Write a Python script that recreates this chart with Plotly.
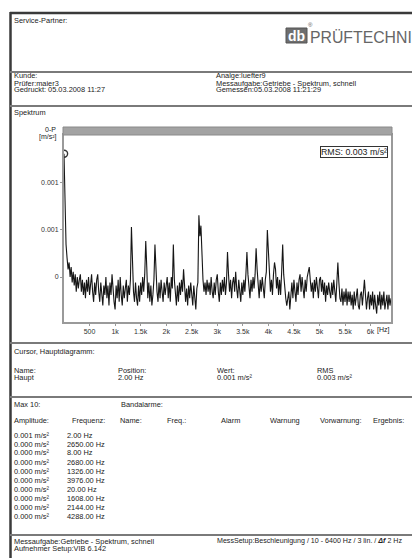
import plotly.graph_objects as go

W, H = 412, 558

# ---------------- data ----------------
freq_start_hz = 0
freq_step_hz = 20
# spectrum amplitude (0-P) in mm/s^2, one value per 20 Hz line, 0 ... 6400 Hz
amp_mms2 = [
    1.40, 0.62, 0.45, 0.38, 0.33, 0.36, 0.30, 0.34, 0.28, 0.32, 0.27, 0.31, 0.25, 0.30, 0.26, 0.29, 0.31, 0.25, 0.29, 0.24,
    0.28, 0.23, 0.29, 0.25, 0.30, 0.24, 0.28, 0.31, 0.25, 0.22, 0.28, 0.24, 0.29, 0.31, 0.25, 0.22, 0.28, 0.24, 0.21, 0.27,
    0.24, 0.30, 0.23, 0.27, 0.21, 0.28, 0.24, 0.31, 0.25, 0.22, 0.20, 0.27, 0.23, 0.29, 0.22, 0.30, 0.24, 0.21, 0.27, 0.23,
    0.26, 0.29, 0.22, 0.27, 0.24, 0.29, 0.56, 0.36, 0.25, 0.22, 0.28, 0.23, 0.21, 0.27, 0.22, 0.28, 0.24, 0.30, 0.25, 0.31,
    0.47, 0.34, 0.23, 0.28, 0.22, 0.27, 0.21, 0.24, 0.29, 0.45, 0.31, 0.25, 0.22, 0.28, 0.23, 0.29, 0.25, 0.22, 0.28, 0.24,
    0.27, 0.30, 0.23, 0.28, 0.22, 0.30, 0.26, 0.45, 0.29, 0.23, 0.21, 0.27, 0.22, 0.28, 0.24, 0.29, 0.25, 0.33, 0.28, 0.22,
    0.26, 0.21, 0.27, 0.23, 0.28, 0.24, 0.21, 0.27, 0.23, 0.20, 0.26, 0.28, 0.65, 0.50, 0.57, 0.34, 0.29, 0.25, 0.28, 0.24,
    0.29, 0.25, 0.28, 0.24, 0.30, 0.25, 0.23, 0.28, 0.24, 0.29, 0.31, 0.25, 0.22, 0.28, 0.24, 0.29, 0.25, 0.30, 0.24, 0.28,
    0.41, 0.31, 0.25, 0.29, 0.23, 0.28, 0.30, 0.25, 0.32, 0.26, 0.23, 0.29, 0.25, 0.22, 0.28, 0.24, 0.29, 0.25, 0.31, 0.41,
    0.31, 0.26, 0.23, 0.29, 0.25, 0.30, 0.26, 0.31, 0.43, 0.33, 0.26, 0.23, 0.29, 0.25, 0.30, 0.26, 0.23, 0.29, 0.32, 0.54,
    0.40, 0.30, 0.25, 0.29, 0.24, 0.31, 0.36, 0.33, 0.26, 0.30, 0.24, 0.29, 0.24, 0.32, 0.45, 0.31, 0.25, 0.23, 0.21, 0.24,
    0.25, 0.20, 0.26, 0.28, 0.23, 0.29, 0.25, 0.22, 0.28, 0.24, 0.29, 0.31, 0.25, 0.30, 0.26, 0.23, 0.29, 0.25, 0.30, 0.32,
    0.34, 0.29, 0.25, 0.28, 0.23, 0.29, 0.25, 0.30, 0.26, 0.23, 0.29, 0.30, 0.25, 0.29, 0.24, 0.28, 0.22, 0.27, 0.24, 0.28,
    0.25, 0.23, 0.28, 0.24, 0.29, 0.25, 0.22, 0.28, 0.36, 0.28, 0.23, 0.22, 0.26, 0.21, 0.25, 0.22, 0.26, 0.21, 0.25, 0.22,
    0.25, 0.21, 0.24, 0.20, 0.25, 0.21, 0.24, 0.26, 0.21, 0.20, 0.24, 0.25, 0.21, 0.24, 0.29, 0.24, 0.20, 0.23, 0.25, 0.20,
    0.24, 0.21, 0.25, 0.20, 0.24, 0.21, 0.19, 0.24, 0.21, 0.25, 0.20, 0.24, 0.21, 0.25, 0.20, 0.22, 0.24, 0.20, 0.24, 0.21, 0.23,
]
cursor_freq_hz = 2.0
cursor_amp_mms2 = 1.40

x_tick_vals = [500, 1000, 1500, 2000, 2500, 3000, 3500, 4000, 4500, 5000, 5500, 6000]
x_tick_text = ["500", "1k", "1.5k", "2k", "2.5k", "3k", "3.5k", "4k", "4.5k", "5k", "5.5k", "6k"]
y_tick_vals = [0.0003, 0.00054, 0.000972]
y_tick_text = ["0", "0.001", "0.001"]
rms_text = "RMS: 0.003 m/s²"

header_left = ["Kunde:", "Prüfer:maier3", "Gedruckt: 05.03.2008 11:27"]
header_right = ["Analge:luefter9", "Messaufgabe:Getriebe - Spektrum, schnell", "Gemessen:05.03.2008 11:21:29"]
cursor_names = ["Name:", "Position:", "Wert:", "RMS"]
cursor_values = ["Haupt", "2.00 Hz", "0.001 m/s²", "0.003 m/s²"]
table_headers = ["Amplitude:", "Frequenz:", "Name:", "Freq.:", "Alarm", "Warnung", "Vorwarnung:", "Ergebnis:"]
max10_amp = ["0.001 m/s²", "0.000 m/s²", "0.000 m/s²", "0.000 m/s²", "0.000 m/s²",
             "0.000 m/s²", "0.000 m/s²", "0.000 m/s²", "0.000 m/s²", "0.000 m/s²"]
max10_freq = ["2.00 Hz", "2650.00 Hz", "8.00 Hz", "2680.00 Hz", "1326.00 Hz",
              "3976.00 Hz", "20.00 Hz", "1608.00 Hz", "2144.00 Hz", "4288.00 Hz"]
footer_left = ["Messaufgabe:Getriebe - Spektrum, schnell", "Aufnehmer Setup:VIB 6.142"]
footer_right = "MessSetup:Beschleunigung / 10 - 6400 Hz / 3 lin. / <b><i>Δf</i></b> 2 Hz"

# ---------------- helpers ----------------
def X(px):
    return px / W

def Y(py):
    return 1 - py / H

FONT = "Liberation Sans, Arial, sans-serif"
TXT = "#222222"
annotations = []
shapes = []

def text(px, py, s, size=7.4, color=TXT, anchor="left", **kw):
    annotations.append(dict(x=X(px), y=Y(py), xref="paper", yref="paper", text=s,
                            showarrow=False, xanchor=anchor, yanchor="middle",
                            font=dict(family=FONT, size=size, color=color),
                            borderpad=0, borderwidth=0, **kw))

def hline(py, x0=10, x1=W, color="#7a7a7a", width=2):
    shapes.append(dict(type="line", xref="paper", yref="paper", x0=X(x0), x1=X(x1),
                       y0=Y(py), y1=Y(py), line=dict(color=color, width=width)))

# ---------------- plot ----------------
PL, PR, PT, PB = 64, 391, 135, 322

fig = go.Figure()
fig.add_trace(go.Scatter(
    x0=freq_start_hz, dx=freq_step_hz, y=[a / 1000 for a in amp_mms2],
    mode="lines", line=dict(color="#161616", width=1.1), hoverinfo="skip"))
fig.add_trace(go.Scatter(
    x=[cursor_freq_hz], y=[cursor_amp_mms2 / 1000], mode="markers",
    marker=dict(symbol="circle-open", size=7, color="#333", line=dict(width=1.4)),
    hoverinfo="skip"))

axis_common = dict(showline=True, linecolor="#9a9a9a", linewidth=2, mirror=True,
                   showgrid=False, zeroline=False, ticks="outside", ticklen=2,
                   tickcolor="#9a9a9a", tickfont=dict(family=FONT, size=7, color="#333"))
fig.update_xaxes(domain=[X(PL), X(PR)], range=[0, 6400], tickmode="array",
                 tickvals=x_tick_vals, ticktext=x_tick_text, **axis_common)
fig.update_yaxes(domain=[Y(PB), Y(PT)], type="log", range=[-3.767, -2.752],
                 tickmode="array", tickvals=y_tick_vals, ticktext=y_tick_text, **axis_common)

# gray bar above the plot
shapes.append(dict(type="rect", xref="paper", yref="paper", x0=X(PL - 1), x1=X(PR + 1),
                   y0=Y(PT), y1=Y(127), fillcolor="#a3a3a3", line=dict(color="#8a8a8a", width=1)))

# ---------------- page frame ----------------
shapes.append(dict(type="line", xref="paper", yref="paper", x0=X(10), x1=X(W), y0=Y(13), y1=Y(13),
                   line=dict(color="#3a3a3a", width=2.5)))
shapes.append(dict(type="line", xref="paper", yref="paper", x0=X(10.5), x1=X(10.5), y0=Y(12), y1=Y(H),
                   line=dict(color="#3a3a3a", width=2.5)))
for sy in [72, 106, 343, 397, 535]:
    hline(sy)

# logo
shapes.append(dict(type="rect", xref="paper", yref="paper", x0=X(286), x1=X(307), y0=Y(43), y1=Y(28),
                   fillcolor="#6e6e6e", line=dict(color="#555", width=1)))
text(296.5, 36, "<b>db</b>", size=14, color="#ffffff", anchor="center")
text(308, 25, "®", size=6, color="#555")
text(310, 37, "PRÜFTECHNIK", size=15.8, color="#666666")

text(14, 21, "Service-Partner:")
for i, s in enumerate(header_left):
    text(14, 76 + 7 * i, s)
for i, s in enumerate(header_right):
    text(216, 76 + 7 * i, s)

text(14, 113, "Spektrum")
text(50, 129, "0-P", size=7, anchor="center")
text(48, 137, "[m/s²]", size=7, anchor="center")
text(383, 330, "[Hz]", size=7, anchor="center")
annotations.append(dict(x=X(388), y=Y(152), xref="paper", yref="paper", text=rms_text,
                        showarrow=False, xanchor="right", yanchor="middle",
                        font=dict(family=FONT, size=8.8, color="#222"),
                        bordercolor="#333", borderwidth=1, borderpad=0, bgcolor="#ffffff"))

# cursor block
text(14, 351, "Cursor, Hauptdiagramm:")
for xp, n, v in zip([14, 118, 217, 317], cursor_names, cursor_values):
    text(xp, 370, n)
    text(xp, 377.5, v)

# max 10 / band alarms
text(14, 404, "Max 10:")
text(121, 404, "Bandalarme:")
for xp, s in zip([14, 72, 120, 167, 221, 270, 320, 373], table_headers):
    text(xp, 420, s)
for i, (a, f) in enumerate(zip(max10_amp, max10_freq)):
    text(14, 435 + 9 * i, a)
    text(67, 435 + 9 * i, f)

# footer
text(14, 541, footer_left[0])
text(14, 548.5, footer_left[1])
text(217, 541, footer_right, size=7.1)

fig.update_layout(width=W, height=H, margin=dict(l=0, r=0, t=0, b=0),
                  paper_bgcolor="#ffffff", plot_bgcolor="#ffffff", showlegend=False,
                  annotations=annotations, shapes=shapes)

fig.write_html("out.html", config={"displayModeBar": False},
               post_script="document.body.style.margin='0px';")
